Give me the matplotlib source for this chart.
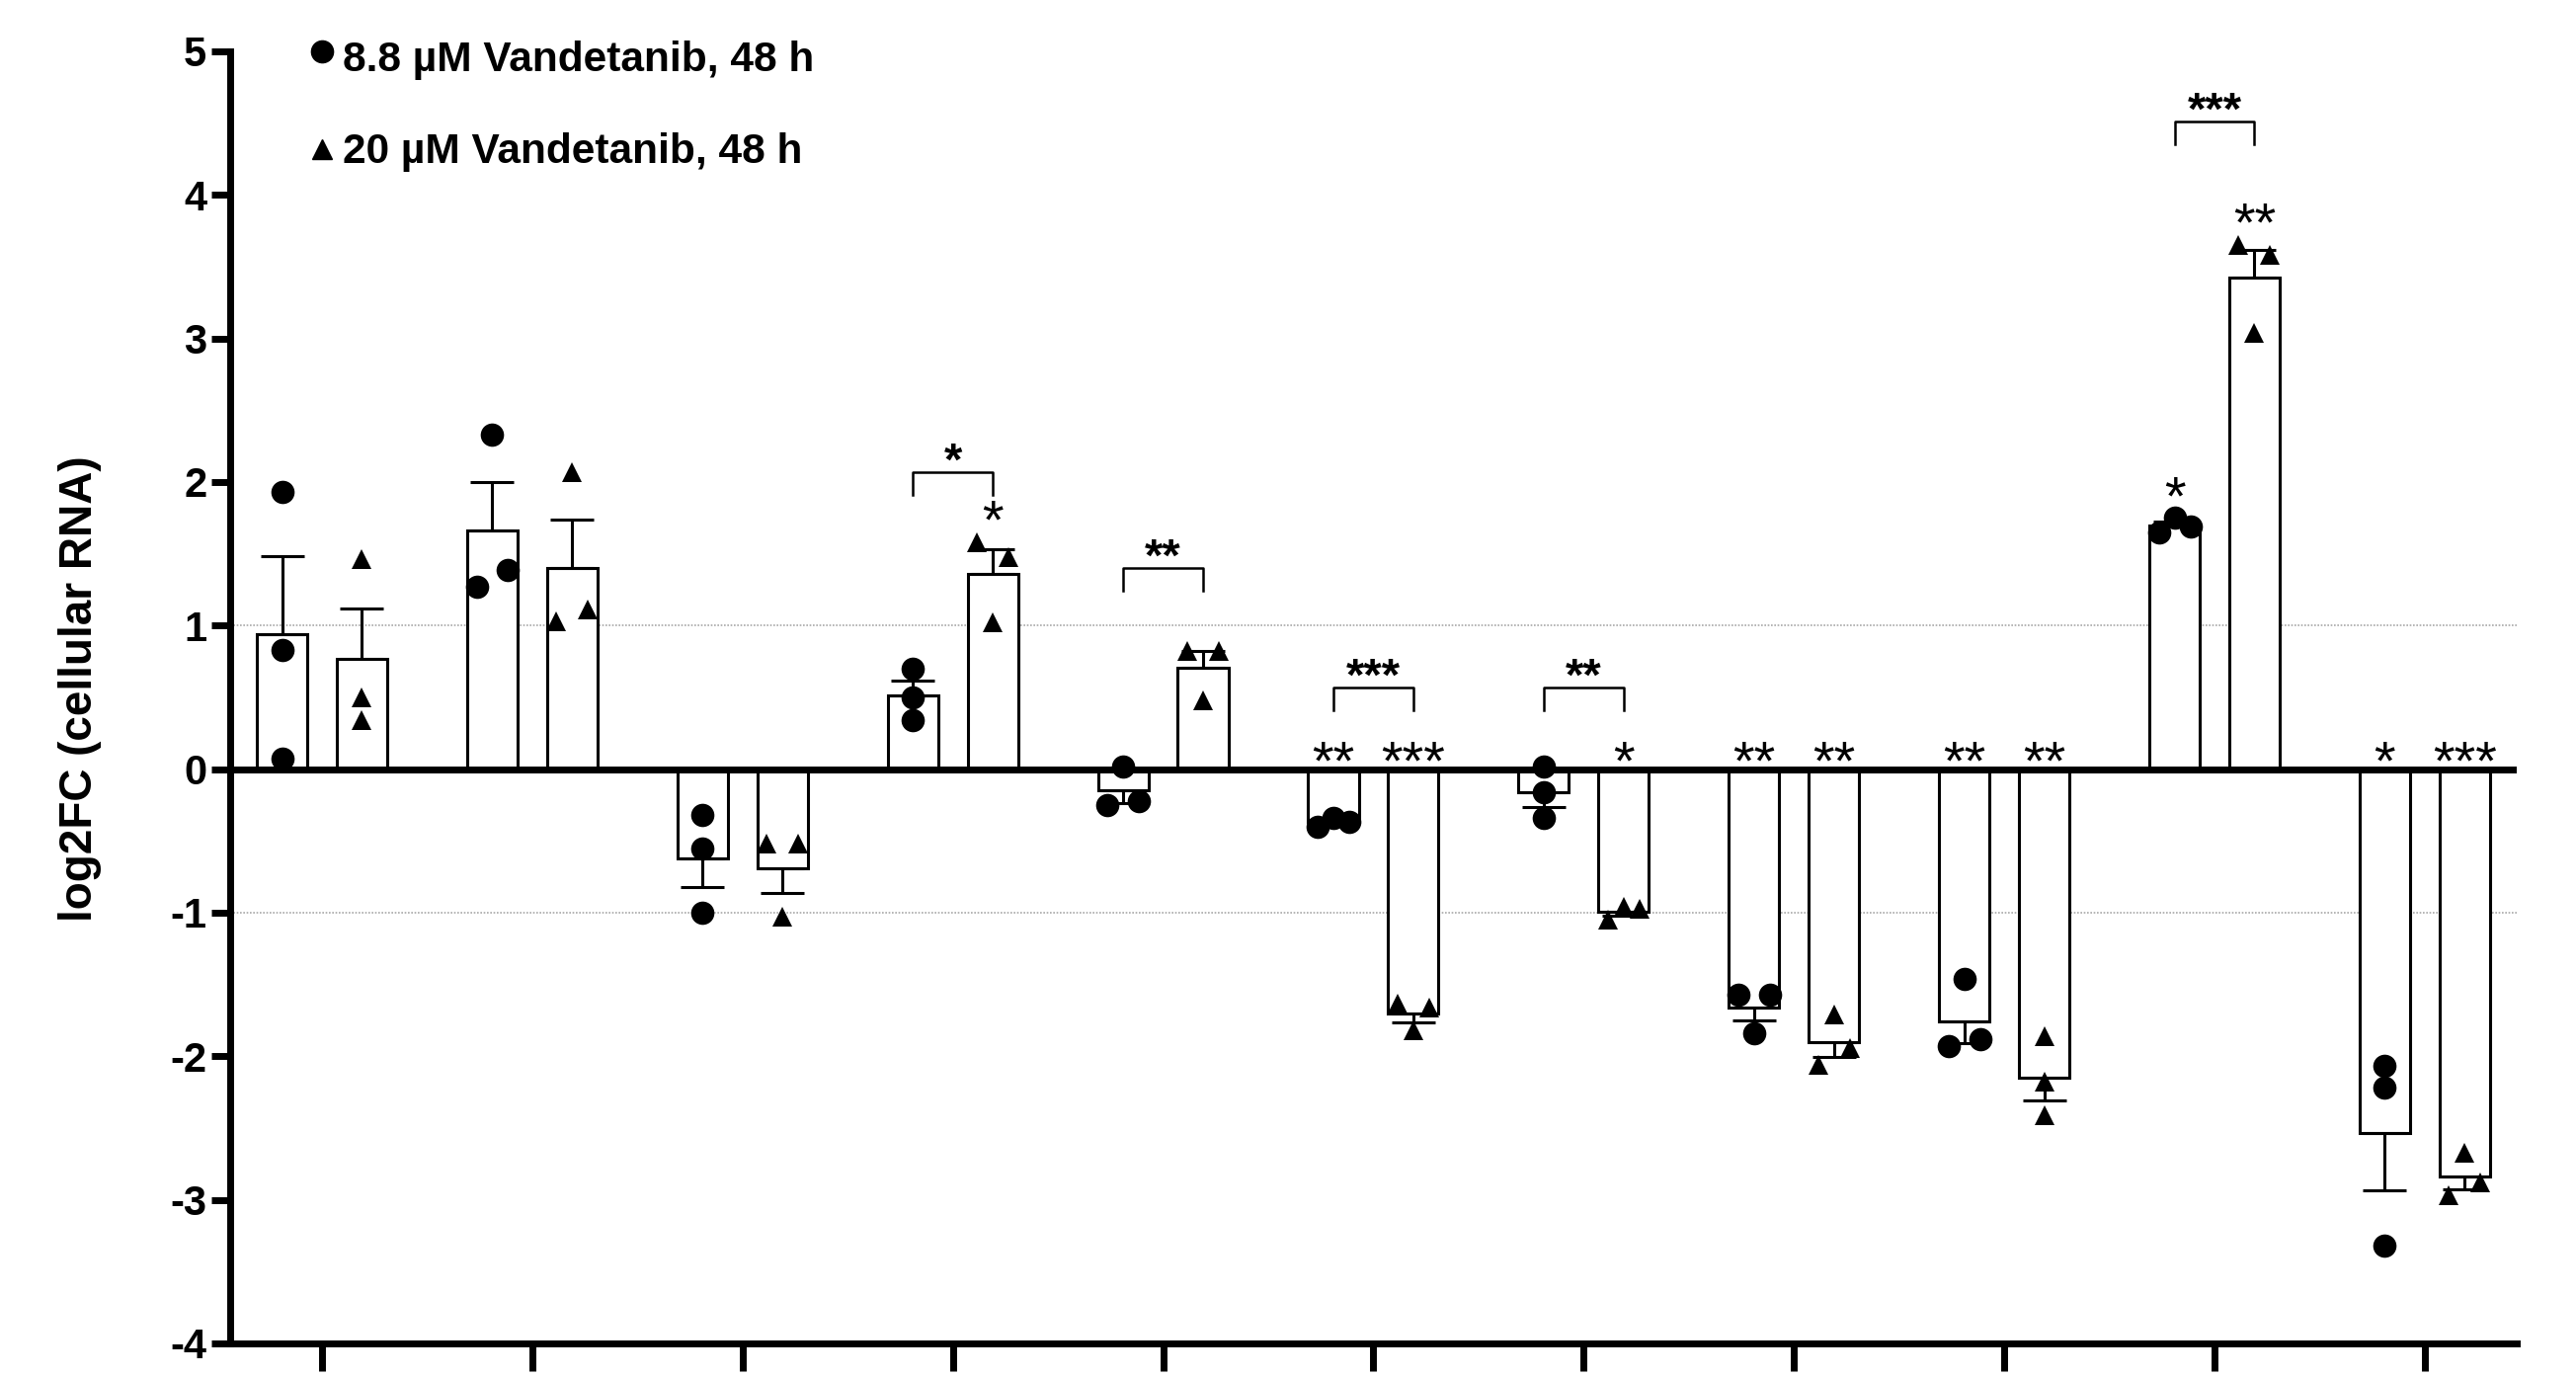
#!/usr/bin/env python3
"""
log2FC bar chart: two Vandetanib doses, 11 targets, replicate points + SEM.
"""

import numpy as np
import matplotlib
matplotlib.use("Agg")
import matplotlib.pyplot as plt

# replicate values (3 per bar, in plotting order)
low_dose = [
    [1.93, 0.83, 0.07],
    [2.33, 1.27, 1.39],
    [-0.32, -0.55, -1.00],
    [0.70, 0.50, 0.34],
    [0.02, -0.25, -0.22],
    [-0.40, -0.34, -0.37],
    [0.02, -0.16, -0.34],
    [-1.57, -1.57, -1.84],
    [-1.46, -1.93, -1.88],
    [1.65, 1.75, 1.69],
    [-2.07, -2.22, -3.32],
]
high_dose = [
    [1.46, 0.50, 0.34],
    [2.07, 1.03, 1.11],
    [-0.52, -0.52, -1.03],
    [1.58, 1.48, 1.02],
    [0.82, 0.82, 0.48],
    [-1.63, -1.66, -1.82],
    [-1.05, -0.96, -0.97],
    [-1.71, -2.06, -1.94],
    [-1.86, -2.18, -2.41],
    [3.65, 3.58, 3.04],
    [-2.67, -2.97, -2.88],
]
series_labels = ["8.8 µM Vandetanib, 48 h", "20 µM Vandetanib, 48 h"]

# significance vs control, per bar
low_sig = ["", "", "", "", "", "**", "", "**", "**", "*", "*"]
high_sig = ["", "", "", "*", "", "***", "*", "**", "**", "**", "***"]

# between-dose comparisons: group index, label, bracket level
bracket_groups = [3, 4, 5, 6, 9]
bracket_labels = ["*", "**", "***", "**", "***"]
bracket_levels = [2.07, 1.40, 0.57, 0.57, 4.51]

y_ticks = [-4, -3, -2, -1, 0, 1, 2, 3, 4, 5]

plt.rcParams["font.family"] = ["Liberation Sans", "DejaVu Sans"]
plt.rcParams["axes.unicode_minus"] = False

OFFSET = 0.19
WIDTH = 0.24
JIT = 0.075
CLUSTER = 0.145


def swarm_offsets(vals):
    """Spread overlapping replicates sideways, GraphPad-style."""
    vals = np.asarray(vals)
    order = np.argsort(vals, kind="stable")
    offs = np.zeros(len(vals))
    clusters = [[order[0]]]
    for i in order[1:]:
        if vals[i] - vals[clusters[-1][-1]] < CLUSTER:
            clusters[-1].append(i)
        else:
            clusters.append([i])
    for c in clusters:
        c = sorted(c)
        if len(c) == 2:
            offs[c[0]], offs[c[1]] = -JIT, JIT
        elif len(c) >= 3:
            offs[c[0]], offs[c[1]], offs[c[2]] = -JIT, 0.0, JIT
    return offs


fig = plt.figure(figsize=(26.08, 13.94), dpi=100)
ax = fig.add_axes([0.0893, 0.0244, 0.8877, 0.9383])

n = len(low_dose)
centers = np.arange(n)

for series, shift, marker, msize in [(low_dose, -OFFSET, "o", 17), (high_dose, OFFSET, "^", 15)]:
    means = np.array([np.mean(v) for v in series])
    sems = np.array([np.std(v, ddof=1) / np.sqrt(len(v)) for v in series])
    xs = centers + shift
    ax.bar(xs, means, WIDTH, facecolor="white", edgecolor="black", linewidth=2.2, zorder=2)
    lower = np.where(means < 0, sems, 0)
    upper = np.where(means >= 0, sems, 0)
    ax.errorbar(xs, means, yerr=[lower, upper], fmt="none", ecolor="black",
                elinewidth=2.2, capsize=16, capthick=2.2, zorder=2.5)
    for x, vals in zip(xs, series):
        offs = swarm_offsets(vals)
        ax.plot(x + offs, vals, linestyle="none", marker=marker, markersize=msize,
                color="black", markeredgewidth=0, zorder=4)

# significance stars above each bar
for series, sig, shift in [(low_dose, low_sig, -OFFSET), (high_dose, high_sig, OFFSET)]:
    for i, lab in enumerate(sig):
        if not lab:
            continue
        vals = series[i]
        m = np.mean(vals)
        if m < 0:
            y = -0.07
        else:
            s = np.std(vals, ddof=1) / np.sqrt(len(vals))
            y = max(max(vals), m + s) + 0.03
        ax.text(centers[i] + shift, y, lab, ha="center", va="baseline",
                fontsize=40, fontweight="normal", zorder=5)

# brackets between doses
for g, lab, top in zip(bracket_groups, bracket_labels, bracket_levels):
    x0, x1 = centers[g] - OFFSET, centers[g] + OFFSET
    ax.plot([x0, x0, x1, x1], [top - 0.16, top, top, top - 0.16],
            color="black", linewidth=1.8, zorder=5)
    ax.text((x0 + x1) / 2, top - 0.02, lab, ha="center", va="baseline",
            fontsize=34, fontweight="bold", zorder=5)

# reference lines
for yv in (1, -1):
    ax.axhline(yv, color="#a8a8a8", linewidth=1.2, linestyle=(0, (1, 1)), zorder=1)
ax.axhline(0, color="black", linewidth=5, zorder=3)

# legend drawn by hand
ax.plot([0.0], [5.0], marker="o", markersize=16, color="black", linestyle="none", clip_on=False)
ax.plot([0.0], [4.32], marker="^", markersize=15, color="black", linestyle="none", clip_on=False)
ax.text(0.1, 4.94, series_labels[0], fontsize=30.5, fontweight="bold", va="center", ha="left")
ax.text(0.1, 4.30, series_labels[1], fontsize=30.5, fontweight="bold", va="center", ha="left")

ax.set_xlim(-0.4375, n - 1 + 0.4375)
ax.set_ylim(-4, 5)
ax.set_yticks(y_ticks)
ax.set_yticklabels([str(t) for t in y_ticks], fontsize=30, fontweight="bold")
ax.set_xticks(centers)
ax.set_xticklabels([])
ax.tick_params(axis="y", direction="out", length=14, width=5, pad=3)
ax.tick_params(axis="x", direction="out", length=20, width=5)

for side in ("top", "right"):
    ax.spines[side].set_visible(False)
for side in ("left", "bottom"):
    ax.spines[side].set_linewidth(5)

fig.text(0.031, 0.5, "log2FC (cellular RNA)", rotation=90, ha="center", va="center",
         fontsize=33, fontweight="bold")

fig.savefig("out.png", dpi=100)
